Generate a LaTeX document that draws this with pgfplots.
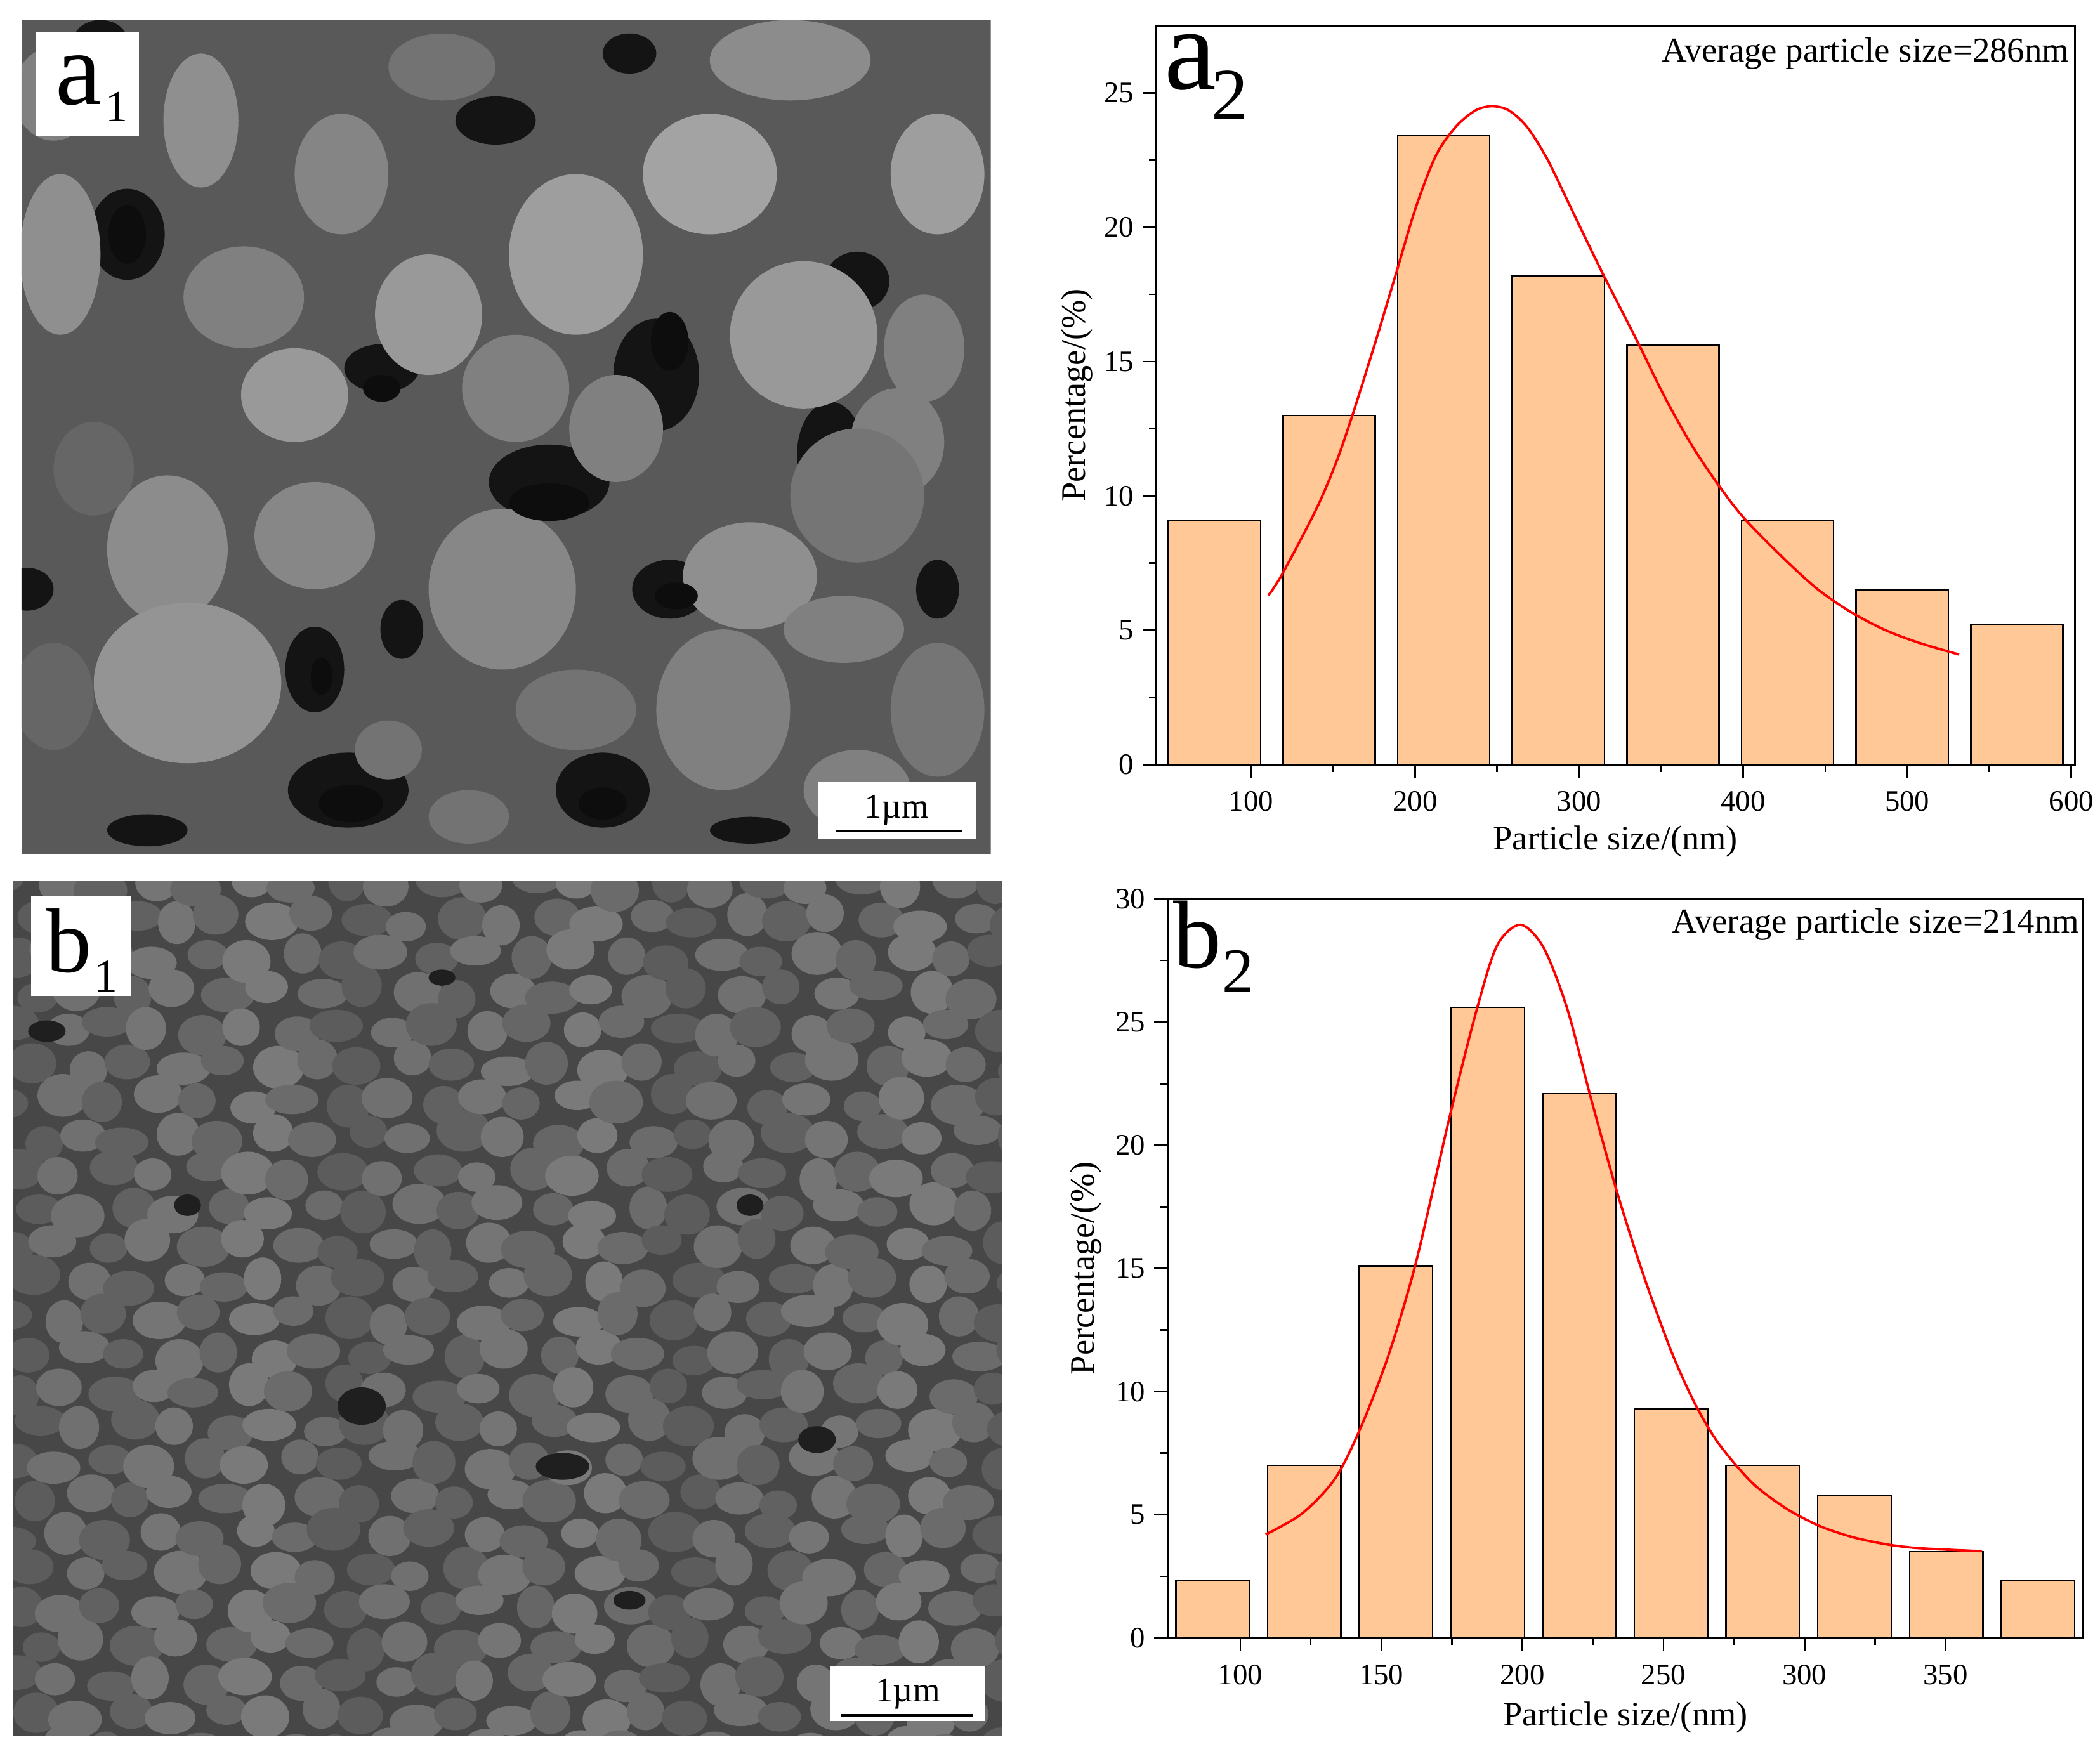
\documentclass[border=0pt]{standalone}
\usepackage{fontspec}
\setmainfont{Liberation Serif}
\usepackage{pgfplots}
\pgfplotsset{compat=1.18}
\definecolor{barfill}{RGB}{255,200,150}
\pgfplotsset{
  hist/.style={
    scale only axis, clip=false, axis on top=false,
    tick align=outside, tick pos=left,
    axis line style={line width=0.75pt},
    every tick/.style={black,line width=0.7pt},
    major tick length=5.3pt, minor tick length=2.8pt,
    minor x tick num=1, minor y tick num=1,
    ticklabel style={font=\fontsize{11.7}{12}\selectfont},
    xticklabel style={yshift=-1.7pt},
    /pgf/number format/assume math mode=true,
    xlabel={Particle size/(nm)}, ylabel={Percentage/(\%)},
    label style={font=\fontsize{13.6}{14}\selectfont},
    ymin=0,
  },
  histbar/.style={ybar, draw=black, line width=0.6pt, fill=barfill},
  fit/.style={red, line width=0.95pt, smooth, tension=0.5, no markers},
}
\begin{document}
\begin{tikzpicture}
\useasboundingbox (0,0) rectangle (827.5pt,691pt);

% SEM panels (schematic)
\begin{scope}[x=0.52775pt,y=-0.52775pt,yshift=691pt]
  % panel a1
  \begin{scope}
    \clip (16,14.6) rectangle (739.7,638);
    \fill[black!65] (16,14.6) rectangle (739.7,638);
    \foreach \x/\y/\a/\b in {95/175/28/34,285/275/28/18,410/360/45/28,490/280/32/42,620/340/25/40,500/440/28/22,260/590/45/28,450/590/35/28,235/500/22/32,20/440/20/16,300/470/16/22,700/440/16/22,370/90/30/18,470/40/20/15,640/210/24/22,110/620/30/12,560/620/30/10,75/30/20/15}{
      \fill[black!92] (\x,\y) ellipse [x radius=\a, y radius=\b];
    }
    \foreach \x/\y/\a/\b/\g in {150/90/28/50/.56,255/130/35/45/.52,45/190/30/60/.56,182/222/45/38/.5,320/235/40/45/.6,430/190/50/60/.62,530/130/50/45/.64,590/45/60/30/.55,700/130/35/45/.62,600/250/55/55/.6,690/260/30/40/.5,220/295/40/35/.6,385/290/40/40/.5,460/320/35/40/.5,670/330/35/40/.5,125/410/45/55/.55,235/400/45/40/.53,375/440/55/60/.53,560/430/50/40/.56,640/370/50/50/.46,140/510/70/60/.58,630/470/45/25/.5,430/530/45/30/.45,540/530/50/60/.5,700/530/35/50/.46,40/70/30/35/.5,330/50/40/25/.45,70/350/30/35/.4,40/520/30/40/.4,290/560/25/22/.45,640/590/40/30/.5,350/610/30/20/.45}{
      \definecolor{gc}{gray}{\g}
      \fill[gc] (\x,\y) ellipse [x radius=\a, y radius=\b];
    }
    \foreach \x/\y/\a/\b in {95/175/14/22,285/290/14/10,410/375/30/14,500/255/14/22,505/445/16/10,262/600/24/14,450/600/18/12,240/505/8/14}{
      \fill[black!95] (\x,\y) ellipse [x radius=\a, y radius=\b];
    }
  \end{scope}
  % panel b1
  \begin{scope}
    \clip (10,658) rectangle (748,1296);
    \fill[black!72] (10,658) rectangle (748,1296);
    \foreach \i in {0,...,21}{
      \foreach \j in {0,...,24}{
        \pgfmathsetmacro{\px}{10+35*\i+17*mod(\j,2)+mod(\i*7+\j*11,13)-6}
        \pgfmathsetmacro{\py}{660+27*\j+mod(\i*5+\j*3,11)-5}
        \pgfmathsetmacro{\rx}{14+mod(\i*3+\j*5,7)}
        \pgfmathsetmacro{\ry}{11+mod(\i*5+\j*2,6)}
        \pgfmathsetmacro{\g}{0.36+0.02*mod(\i*11+\j*7,7)}
        \definecolor{gc}{gray}{\g}
        \fill[gc] (\px,\py) ellipse [x radius=\rx, y radius=\ry];
      }
    }
    \foreach \x/\y/\a/\b in {270/1050/18/14,420/1095/20/10,140/900/10/8,610/1075/14/10,35/770/14/8,560/900/10/8,330/730/10/6,470/1195/12/7}{
      \fill[black!88] (\x,\y) ellipse [x radius=\a, y radius=\b];
    }
  \end{scope}
\end{scope}

% panel labels and scale bars, in image pixels
\begin{scope}[x=0.25pt,y=-0.25pt,yshift=691pt]
  \fill[white] (55.8,49.8) rectangle (218.9,214.6);
  \node[anchor=base west,inner sep=0pt,font=\fontsize{41}{41}\selectfont] at (87,165) {a};
  \node[anchor=base west,inner sep=0pt,font=\fontsize{17.5}{18}\selectfont] at (166,192) {1};
  \fill[white] (1289,1231.6) rectangle (1538,1322);
  \draw[black,line width=0.9pt] (1317,1310) -- (1517,1310);
  \node[inner sep=0pt,font=\fontsize{13.7}{14}\selectfont] at (1413,1277) {1µm};

  \fill[white] (48.6,1412) rectangle (207,1570);
  \node[anchor=base west,inner sep=0pt,font=\fontsize{36}{36}\selectfont] at (72,1533) {b};
  \node[anchor=base west,inner sep=0pt,font=\fontsize{18.5}{19}\selectfont] at (148,1564) {1};
  \fill[white] (1309,2626) rectangle (1552,2713);
  \draw[black,line width=0.9pt] (1326,2704) -- (1533,2704);
  \node[inner sep=0pt,font=\fontsize{13.7}{14}\selectfont] at (1431,2670) {1µm};
\end{scope}

% panel a2
\begin{axis}[hist, at={(455.65pt,389.6pt)}, anchor=south west,
  width=361.85pt, height=291.3pt,
  xlabel style={yshift=1.2pt},
  ylabel style={yshift=-2.4pt},
  xmin=42.3, xmax=602, ymax=27.5,
  xtick={100,200,300,400,500,600}, ytick={0,5,10,15,20,25}]
\addplot[histbar, bar width=56.1] coordinates {
  (77.7,9.1) (147.6,13.0) (217.4,23.4) (287.3,18.2)
  (357.2,15.6) (427.0,9.1) (496.9,6.5) (566.8,5.2)};
\addplot[fit] coordinates {
  (110.6,6.3) (118.8,7.07) (139.3,9.45) (151.6,11.2) (161.8,13.0) (176.2,15.8)
  (188.5,18.3) (200.8,20.8) (213,22.7) (225,23.75) (237,24.35) (247,24.5)
  (257,24.35) (268,23.75) (280,22.6) (292,21.1) (303,19.7) (315,18.2) (335.9,15.7)
  (352,13.7) (368.5,11.9) (385,10.4) (401,9.14) (426,7.6) (446,6.5)
  (466.5,5.65) (487,5.0) (507.6,4.53) (531.6,4.1)};
\end{axis}

% panel b2
\begin{axis}[hist, at={(460.15pt,45.5pt)}, anchor=south west,
  width=360.75pt, height=291.25pt,
  xlabel style={yshift=0.2pt},
  ylabel style={yshift=-1.4pt},
  xmin=74.3, xmax=398.8, ymax=30,
  xtick={100,150,200,250,300,350}, ytick={0,5,10,15,20,25,30}]
\addplot[histbar, bar width=26] coordinates {
  (90.2,2.33) (122.7,7.0) (155.2,15.1) (187.7,25.6) (220.2,22.1)
  (252.7,9.3) (285.2,7.0) (317.7,5.8) (350.2,3.5) (382.7,2.33)};
\addplot[fit] coordinates {
  (109,4.2) (121.9,5.05) (133.8,6.5) (143.3,8.7) (152.9,11.6) (162.4,15.3)
  (174.3,21.2) (183.8,25.5) (191,28.1) (199.3,28.95) (207.6,28) (216,25.5)
  (224.3,21.9) (233.8,18) (243.3,14.6) (252.9,11.6) (261.2,9.5) (269.5,7.9)
  (281.4,6.3) (293.3,5.27) (305.2,4.55) (317.1,4.09) (329,3.8) (340.9,3.64)
  (362.9,3.52)};
\end{axis}

% chart annotations
\begin{scope}[x=0.25pt,y=-0.25pt,yshift=691pt]
  \node[anchor=east,inner sep=0pt,font=\fontsize{13.7}{14}\selectfont] at (3262,84) {Average particle size=286nm};
  \node[anchor=base west,inner sep=0pt,font=\fontsize{46}{46}\selectfont] at (1835,141) {a};
  \node[anchor=base west,inner sep=0pt,font=\fontsize{29}{29}\selectfont] at (1909,189) {2};
  \node[anchor=east,inner sep=0pt,font=\fontsize{13.7}{14}\selectfont] at (3278,1457) {Average particle size=214nm};
  \node[anchor=base west,inner sep=0pt,font=\fontsize{38}{38}\selectfont] at (1849,1526) {b};
  \node[anchor=base west,inner sep=0pt,font=\fontsize{25}{25}\selectfont] at (1926,1565) {2};
\end{scope}
\end{tikzpicture}
\end{document}
